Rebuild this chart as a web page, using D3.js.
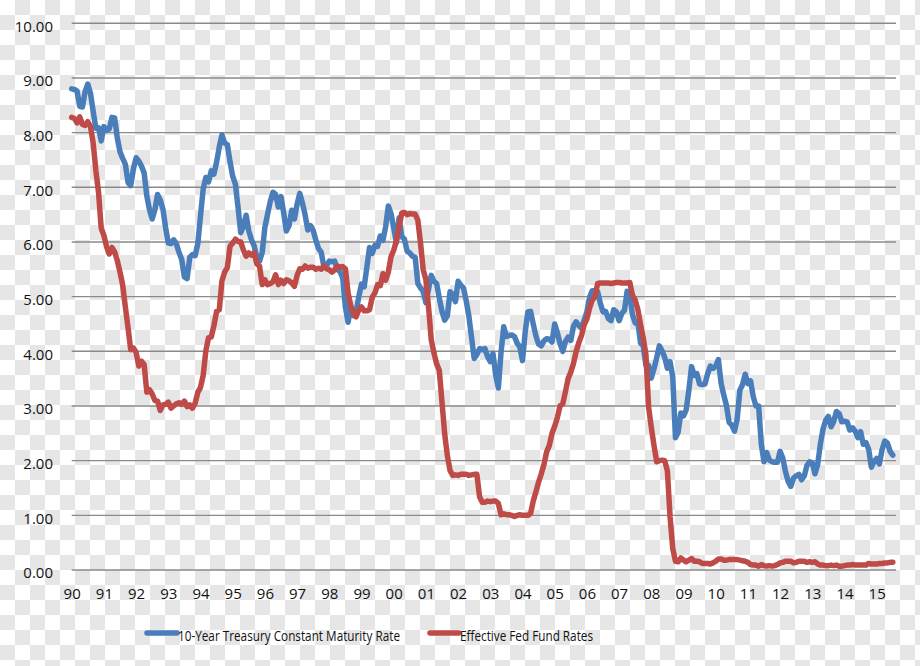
<!DOCTYPE html>
<html>
<head>
<meta charset="utf-8">
<script src="https://cdn.jsdelivr.net/npm/d3@7"></script>
<style>
  html, body { margin: 0; padding: 0; background: #ffffff; }
  svg { display: block; }
  text { font-family: "Open Sans", "Noto Sans", sans-serif; fill: #111; }
</style>
</head>
<body>
<svg id="chart" width="920" height="666"></svg>
<script>
// ---- Data (monthly, Mar 1990 .. Sep 2015) ----
const yearLabels = ["90","91","92","93","94","95","96","97","98","99","00","01","02","03","04","05","06","07","08","09","10","11","12","13","14","15"];
const yTicks = [0,1,2,3,4,5,6,7,8,9,10];
const seriesNames = ["10-Year Treasury Constant Maturity Rate", "Effective Fed Fund Rates"];

const treasury10y = [
  8.80, 8.79, 8.76, 8.48, 8.47, 8.75, 8.89, 8.72, 8.39, 8.08,
  8.09, 7.85, 8.11, 8.04, 8.07, 8.28, 8.27, 7.90, 7.65, 7.53, 7.42, 7.09,
  7.03, 7.34, 7.54, 7.48, 7.39, 7.26, 6.84, 6.59, 6.42, 6.59, 6.87, 6.77,
  6.60, 6.26, 5.98, 5.97, 6.04, 5.96, 5.81, 5.68, 5.36, 5.33, 5.72, 5.77,
  5.75, 5.97, 6.48, 6.97, 7.18, 7.10, 7.30, 7.24, 7.46, 7.74, 7.96, 7.81,
  7.78, 7.47, 7.20, 7.06, 6.63, 6.17, 6.28, 6.49, 6.20, 6.04, 5.93, 5.71,
  5.65, 5.81, 6.27, 6.51, 6.74, 6.91, 6.87, 6.64, 6.83, 6.53, 6.20, 6.30,
  6.58, 6.42, 6.69, 6.89, 6.71, 6.49, 6.22, 6.30, 6.21, 6.03, 5.88, 5.81,
  5.54, 5.57, 5.65, 5.64, 5.65, 5.50, 5.46, 5.34, 4.81, 4.53, 4.83, 4.65,
  4.72, 5.00, 5.23, 5.18, 5.54, 5.90, 5.79, 5.94, 5.92, 6.11, 6.03, 6.28,
  6.66, 6.52, 6.26, 5.99, 6.44, 6.10, 6.05, 5.83, 5.80, 5.74, 5.72, 5.24,
  5.16, 5.10, 4.89, 5.14, 5.39, 5.28, 5.24, 4.97, 4.73, 4.57, 4.65, 5.09,
  5.04, 4.91, 5.28, 5.21, 5.16, 4.93, 4.65, 4.26, 3.87, 3.94, 4.05, 4.03,
  4.05, 3.90, 3.81, 3.96, 3.57, 3.33, 3.98, 4.45, 4.27, 4.29, 4.30, 4.27,
  4.15, 4.08, 3.83, 4.35, 4.72, 4.73, 4.50, 4.28, 4.13, 4.10, 4.19, 4.23,
  4.22, 4.17, 4.50, 4.34, 4.14, 4.00, 4.18, 4.26, 4.20, 4.46, 4.54, 4.47,
  4.42, 4.57, 4.72, 4.99, 5.11, 5.11, 5.09, 4.88, 4.72, 4.73, 4.60, 4.56,
  4.76, 4.72, 4.56, 4.69, 4.75, 5.10, 5.00, 4.67, 4.52, 4.53, 4.15, 4.10,
  3.74, 3.74, 3.51, 3.68, 3.88, 4.10, 4.01, 3.89, 3.69, 3.81, 3.53, 2.42,
  2.52, 2.87, 2.82, 2.93, 3.29, 3.72, 3.56, 3.59, 3.40, 3.39, 3.40, 3.59,
  3.73, 3.69, 3.73, 3.85, 3.42, 3.20, 3.01, 2.70, 2.65, 2.54, 2.76, 3.29,
  3.39, 3.58, 3.41, 3.46, 3.17, 3.00, 3.00, 2.30, 1.98, 2.15, 2.01, 1.98,
  1.97, 1.97, 2.17, 2.05, 1.80, 1.62, 1.53, 1.68, 1.72, 1.75, 1.65, 1.72,
  1.91, 1.98, 1.96, 1.76, 1.93, 2.30, 2.58, 2.74, 2.81, 2.62, 2.72, 2.90,
  2.86, 2.71, 2.72, 2.71, 2.56, 2.60, 2.54, 2.42, 2.53, 2.30, 2.33, 2.21,
  1.88, 1.98, 2.04, 1.94, 2.20, 2.36, 2.32, 2.17, 2.10
];

const fedFunds = [
  8.28, 8.26, 8.18, 8.29, 8.15, 8.13, 8.20, 8.11, 7.81, 7.31,
  6.91, 6.25, 6.12, 5.91, 5.78, 5.90, 5.82, 5.66, 5.45, 5.21, 4.81, 4.43,
  4.03, 4.06, 3.98, 3.73, 3.82, 3.76, 3.25, 3.30, 3.22, 3.10, 3.09, 2.92,
  3.02, 3.03, 3.07, 2.96, 3.00, 3.04, 3.06, 3.03, 3.09, 2.99, 3.02, 2.96,
  3.05, 3.25, 3.34, 3.56, 4.01, 4.25, 4.26, 4.47, 4.73, 4.76, 5.29, 5.45,
  5.53, 5.92, 5.98, 6.05, 6.01, 6.00, 5.85, 5.74, 5.80, 5.76, 5.80, 5.60,
  5.56, 5.22, 5.31, 5.22, 5.24, 5.27, 5.40, 5.22, 5.30, 5.24, 5.31, 5.29,
  5.25, 5.19, 5.39, 5.51, 5.50, 5.56, 5.52, 5.54, 5.54, 5.50, 5.52, 5.50,
  5.56, 5.51, 5.49, 5.45, 5.49, 5.56, 5.54, 5.55, 5.51, 5.07, 4.83, 4.68,
  4.63, 4.76, 4.81, 4.74, 4.74, 4.76, 4.99, 5.07, 5.22, 5.20, 5.42, 5.30,
  5.45, 5.73, 5.85, 6.02, 6.27, 6.53, 6.54, 6.50, 6.52, 6.51, 6.51, 6.40,
  5.98, 5.49, 5.31, 4.80, 4.21, 3.97, 3.77, 3.65, 3.07, 2.49, 2.09, 1.82,
  1.73, 1.74, 1.73, 1.75, 1.75, 1.75, 1.73, 1.74, 1.75, 1.75, 1.34, 1.24,
  1.24, 1.26, 1.25, 1.26, 1.26, 1.22, 1.01, 1.03, 1.01, 1.01, 1.00, 0.98,
  1.00, 1.01, 1.00, 1.00, 1.00, 1.03, 1.26, 1.43, 1.61, 1.76, 1.93, 2.16,
  2.28, 2.50, 2.63, 2.79, 3.00, 3.04, 3.26, 3.50, 3.62, 3.78, 4.00, 4.16,
  4.29, 4.49, 4.59, 4.79, 4.94, 4.99, 5.24, 5.25, 5.25, 5.25, 5.25, 5.24,
  5.25, 5.26, 5.26, 5.25, 5.25, 5.25, 5.26, 5.02, 4.94, 4.76, 4.49, 4.24,
  3.94, 2.98, 2.61, 2.28, 1.98, 2.00, 2.01, 2.00, 1.81, 0.97, 0.39, 0.16,
  0.15, 0.22, 0.18, 0.15, 0.18, 0.21, 0.16, 0.16, 0.15, 0.12, 0.12, 0.12,
  0.11, 0.13, 0.16, 0.20, 0.20, 0.18, 0.18, 0.19, 0.19, 0.19, 0.19, 0.18,
  0.17, 0.16, 0.14, 0.10, 0.09, 0.09, 0.07, 0.10, 0.08, 0.07, 0.08, 0.07,
  0.08, 0.10, 0.13, 0.14, 0.16, 0.16, 0.16, 0.13, 0.14, 0.16, 0.16, 0.16,
  0.14, 0.15, 0.14, 0.15, 0.11, 0.09, 0.09, 0.08, 0.08, 0.09, 0.08, 0.09,
  0.07, 0.07, 0.08, 0.09, 0.09, 0.10, 0.09, 0.09, 0.09, 0.09, 0.09, 0.12,
  0.11, 0.11, 0.11, 0.12, 0.12, 0.13, 0.13, 0.14, 0.14
];

const colors = ["#4A7EBB", "#BE4B48"];

// ---- Layout ----
const svg = d3.select("#chart");
const W = 920, H = 666;

// checkerboard background (transparency pattern in the reference)
const defs = svg.append("defs");
const pat = defs.append("pattern").attr("id", "checker")
  .attr("patternUnits", "userSpaceOnUse").attr("width", 30).attr("height", 30);
pat.append("rect").attr("width", 30).attr("height", 30).attr("fill", "#ffffff");
pat.append("rect").attr("x", 15).attr("y", 0).attr("width", 15).attr("height", 15).attr("fill", "#e6e6e6");
pat.append("rect").attr("x", 0).attr("y", 15).attr("width", 15).attr("height", 15).attr("fill", "#e6e6e6");
svg.append("rect").attr("width", W).attr("height", H).attr("fill", "url(#checker)");

const n = treasury10y.length;
const x = d3.scaleLinear().domain([0, 300]).range([71.7, 876.7]);
const y = d3.scaleLinear().domain([0, 10]).range([570, 23.3]);

const gridLeft = 71.7, gridRight = 896;

// gridlines
svg.append("g").selectAll("line").data(yTicks).join("line")
  .attr("x1", gridLeft).attr("x2", gridRight)
  .attr("y1", d => y(d)).attr("y2", d => y(d))
  .attr("stroke", "#8a8a8a").attr("stroke-width", 1.4);

// y axis labels
const yAxis = svg.append("g").attr("transform", "translate(56,0)")
  .call(d3.axisLeft(y).tickValues(yTicks).tickFormat(d3.format(".2f")).tickSize(0).tickPadding(3));
yAxis.select(".domain").remove();
yAxis.selectAll("text").attr("dy", "0.52em").style("font-size", "15px")
  .style("font-family", "'Open Sans', sans-serif").attr("fill", "#111");

// x axis labels
const xTickIdx = yearLabels.map((_, i) => i * 12);
const xAxis = svg.append("g").attr("transform", "translate(0,570)")
  .call(d3.axisBottom(x).tickValues(xTickIdx).tickFormat((d, i) => yearLabels[i]).tickSize(0).tickPadding(18));
xAxis.select(".domain").remove();
xAxis.selectAll("text").style("font-size", "15px")
  .style("font-family", "'Open Sans', sans-serif").attr("fill", "#111");

// lines
const line = d3.line().x((d, i) => x(i)).y(d => y(d)).curve(d3.curveLinear);
[treasury10y, fedFunds].forEach((s, k) => {
  svg.append("path").datum(s)
    .attr("d", line)
    .attr("fill", "none")
    .attr("stroke", colors[k])
    .attr("stroke-width", 5.5)
    .attr("stroke-linejoin", "round")
    .attr("stroke-linecap", "round");
});

// legend
const legendItems = [
  {x0: 147, x1: 177, tx: 178, tw: 222},
  {x0: 430, x1: 459, tx: 460, tw: 133}
];
const lg = svg.append("g");
legendItems.forEach((it, k) => {
  lg.append("line").attr("x1", it.x0).attr("x2", it.x1).attr("y1", 633).attr("y2", 633)
    .attr("stroke", colors[k]).attr("stroke-width", 5.5).attr("stroke-linecap", "round");
  lg.append("text").attr("x", it.tx).attr("y", 640.5)
    .attr("textLength", it.tw).attr("lengthAdjust", "spacingAndGlyphs")
    .style("font-size", "14.5px").attr("fill", "#111").text(seriesNames[k]);
});
</script>
</body>
</html>
